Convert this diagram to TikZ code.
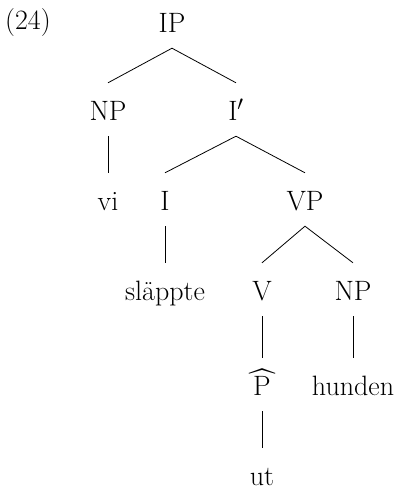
\documentclass[tikz,border=0pt]{standalone}
\usepackage{fontspec}
\setmainfont{Latin Modern Roman}
% letter with a wide circumflex above it
\newcommand{\widecirc}[1]{{\setbox0\hbox{#1}%
  \makebox[0pt][l]{\makebox[\wd0]{\raisebox{4pt}{\scalebox{1.7}[1.1]{\^{}}}}}#1}}
\begin{document}
\begin{tikzpicture}[x=1pt,y=-1pt,
  cat/.style={anchor=base,inner xsep=0pt,inner ysep=10pt,
    text height=27pt,text depth=6pt,font=\fontsize{28}{32}\selectfont},
  branch/.style={line width=0.8pt}]
\useasboundingbox (0,0) rectangle (400,490);
% example number
\node[anchor=base west,inner sep=0pt,font=\fontsize{28}{32}\selectfont] (ex) at (5,29) {(24)};
% tree labels, placed on their baselines
\node[cat] (ip)   at (172,32)  {IP};
\node[cat] (np1)  at (108,120) {NP};
\node[cat] (ibar) at (236,120) {I$'$};
\node[cat] (vi)   at (108,210) {vi};
\node[cat] (i)    at (165,210) {I};
\node[cat] (vp)   at (305,210) {VP};
\node[cat] (sl)   at (165,300) {släppte};
\node[cat] (v)    at (262,300) {V};
\node[cat] (np2)  at (353,300) {NP};
\node[cat] (p)    at (262,395) {\widecirc{P}};
\node[cat] (hu)   at (353,395) {hunden};
\node[cat] (ut)   at (262,485) {ut};
% branches
\draw[branch] (np1.north) -- (ip.south) -- (ibar.north);
\draw[branch] (np1.south) -- (vi.north);
\draw[branch] (i.north) -- (ibar.south) -- (vp.north);
\draw[branch] (i.south) -- (sl.north);
\draw[branch] (v.north) -- (vp.south) -- (np2.north);
\draw[branch] (v.south) -- (p.north);
\draw[branch] (np2.south) -- (hu.north);
\draw[branch] (p.south) -- (ut.north);
\end{tikzpicture}
\end{document}
